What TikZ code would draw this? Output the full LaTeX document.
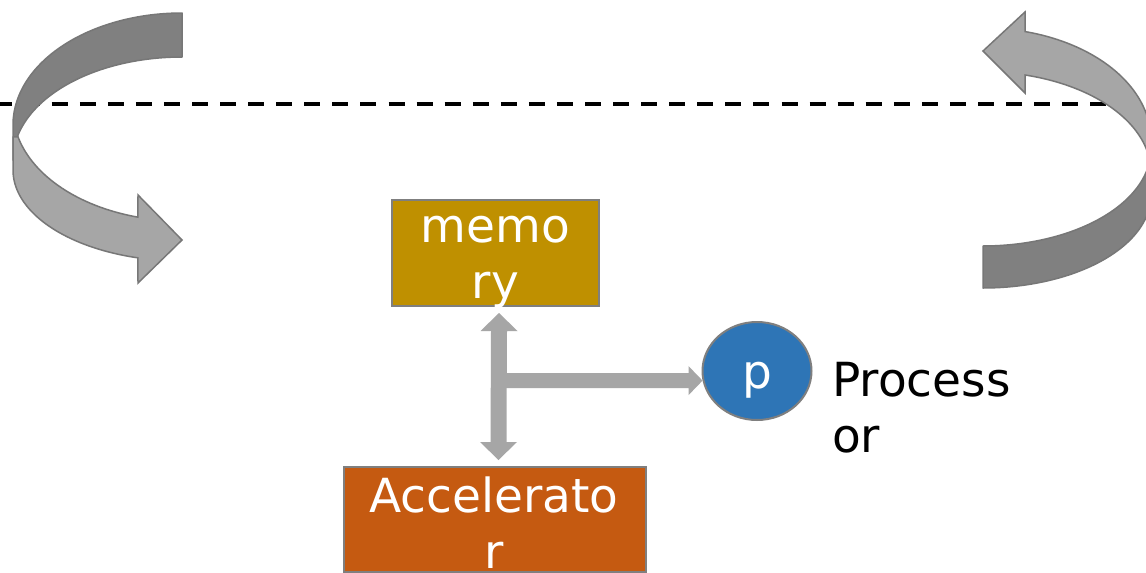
\documentclass[tikz,border=0pt]{standalone}
\usepackage{fontspec}
\setmainfont{DejaVu Sans}
\usetikzlibrary{shapes.geometric,calc}

\definecolor{bandDark}{HTML}{808080}
\definecolor{bandLight}{HTML}{A6A6A6}
\definecolor{bandEdge}{HTML}{777777}
\definecolor{memGold}{HTML}{BF9000}
\definecolor{accOrange}{HTML}{C55A11}
\definecolor{procBlue}{HTML}{2E75B6}
\definecolor{busGray}{HTML}{A6A6A6}
\definecolor{boxEdge}{HTML}{7F7F7F}

\begin{document}
\begin{tikzpicture}[x=1pt,y=-1pt,
  bigfont/.style={font=\fontsize{47}{56}\selectfont},
  blockbox/.style={rectangle, draw=boxEdge, line width=2pt, inner sep=0pt},
  boxtext/.style={bigfont, text=white, align=center, inner sep=0pt, anchor=base},
  bandback/.style={fill=bandDark, draw=bandEdge, line width=1.5pt, line join=round},
  bandfront/.style={fill=bandLight, draw=bandEdge, line width=1.5pt, line join=miter},
  bus/.style={fill=busGray},
  boundary/.style={line width=4pt, dash pattern=on 16pt off 12.07pt, dash phase=4.44pt}
]
\useasboundingbox (0,0) rectangle (1146,573);
\fill[white] (0,0) rectangle (1146,573);

% horizontal boundary
\coordinate (bL) at (0,104);
\coordinate (bR) at (1146,104);
\draw[boundary] (bL) -- (bR);

% left turning arrow: back half
\filldraw[bandback] (182,13)
  -- plot[domain=270:180,samples=60] ({182+169*cos(\x)},{125+112*sin(\x)})
  -- plot[domain=180:270,samples=60] ({182+169*cos(\x)},{160+103*sin(\x)})
  -- cycle;
% left turning arrow: front half with head
\filldraw[bandfront] (13,137) -- (13,170)
  -- plot[domain=180:105.1,samples=60] ({182+169*cos(\x)},{170+91*sin(\x)})
  -- (138,283) -- (182,240) -- (138,195)
  -- plot[domain=105.1:166,samples=60] ({182+169*cos(\x)},{110+111*sin(\x)})
  -- cycle;

% right turning arrow: back half
\filldraw[bandback] (983,288)
  -- plot[domain=90:0,samples=60] ({983+168*cos(\x)},{195+93*sin(\x)})
  -- plot[domain=0:90,samples=60] ({983+168*cos(\x)},{149+97*sin(\x)})
  -- cycle;
% right turning arrow: front half with head
\filldraw[bandfront] (1151,140)
  -- plot[domain=0:-75.5,samples=60] ({983+168*cos(\x)},{140+112*sin(\x)})
  -- (1025,12) -- (983,51) -- (1025,93)
  -- plot[domain=-75.5:0,samples=60] ({983+168*cos(\x)},{172.5+100.7*sin(\x)})
  -- cycle;

% blocks
\node[blockbox, fill=memGold, minimum width=207pt, minimum height=106pt] (mem) at (495.5,253) {};
\node[blockbox, fill=accOrange, minimum width=302pt, minimum height=105pt] (acc) at (495,519.5) {};
\node[ellipse, draw=boxEdge, line width=2pt, fill=procBlue, inner sep=0pt,
      minimum width=109pt, minimum height=98pt, text=white, bigfont,
      text height=34pt, text depth=0pt] (p) at (757,371) {p};

% multi-line labels are anchored at the baseline of their last line
\node[boxtext] (memtext) at (495.5,298) {memo\\ry};
\node[boxtext] (acctext) at (494,568) {Accelerato\\r};
\node[bigfont, align=left, inner sep=0pt, anchor=base west] (proc) at (832,452) {Process\\or};

% bus between memory and accelerator
\coordinate (vtop) at ([xshift=3.5pt,yshift=-6pt]mem.south);
\coordinate (vbot) at ([xshift=3.5pt,yshift=6pt]acc.north);
\fill[bus] (vtop) -- ++(18.5,18) -- ++(-10.5,0) -- ($(vbot)+(8,-18)$) -- ++(10.5,0)
  -- (vbot) -- ++(-18.5,-18) -- ++(10.5,0) -- ($(vtop)+(-8,18)$) -- ++(-10.5,0) -- cycle;

% branch from the bus to the processor
\coordinate (ptip) at (p.190);
\coordinate (pjoin) at (vtop |- ptip);
\fill[bus] ($(pjoin)+(0,-7.5)$) -- ($(ptip)+(-14,-7.5)$) -- ++(0,-7) -- (ptip)
  -- ($(ptip)+(-14,14.5)$) -- ++(0,-7) -- ($(pjoin)+(0,7.5)$) -- cycle;
\end{tikzpicture}
\end{document}
